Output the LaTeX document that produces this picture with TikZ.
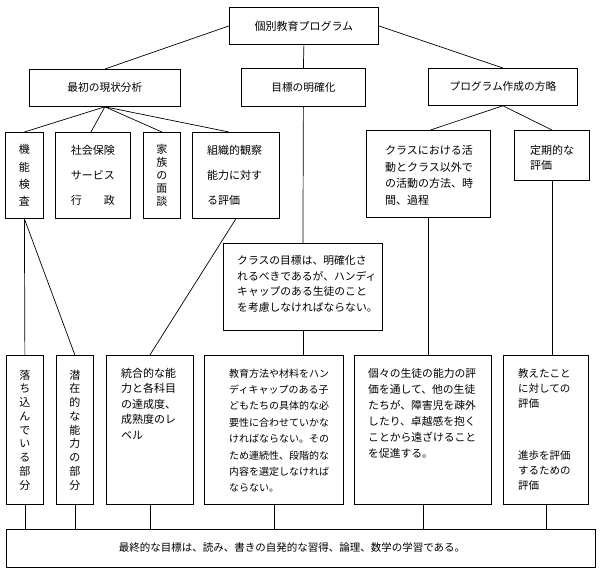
\documentclass[tikz,border=0pt]{standalone}
\usepackage{fontspec}
\newfontfamily\jp{Noto Sans CJK JP}
\newcommand\jpf[2]{\jp\fontsize{#1}{#2}\selectfont}
\usetikzlibrary{calc}
\begin{document}
\begin{tikzpicture}[x=1pt,y=-1pt,
  box/.style={draw, line width=0.8pt, inner sep=0pt, anchor=north west, align=center, font=\jpf{11}{16}},
  txt/.style={inner sep=0pt, anchor=north west, align=left},
  link/.style={line width=0.7pt}]
\useasboundingbox (0,0) rectangle (600,570);
% level 1 and 2
\node[box, minimum width=149pt, minimum height=37pt] (top) at (229,7) {個別教育プログラム};
\node[box, minimum width=151pt, minimum height=37pt, font=\jpf{10.7}{14}] (anal) at (29,69) {最初の現状分析};
\node[box, minimum width=124pt, minimum height=38pt, font=\jpf{10.7}{14}] (goal) at (241,68) {目標の明確化};
\node[box, minimum width=149pt, minimum height=37pt, font=\jpf{10.7}{14}] (strat) at (428,68) {プログラム作成の方略};
% level 3
\node[box, minimum width=38pt, minimum height=86pt, font=\jpf{11}{17.3}] (kinou) at (5,132) {機\\能\\検\\査};
\node[box, minimum width=75pt, minimum height=86pt, font=\jpf{11}{25}] (shakai) at (55,132) {社会保険\\サービス\\行　　政};
\node[box, minimum width=37pt, minimum height=86pt, font=\jpf{11}{13}] (kazoku) at (143,132) {家\\族\\の\\面\\談};
\node[box, minimum width=87pt, minimum height=86pt] (soshiki) at (192,132) {};
\node[txt, font=\jpf{11}{25}] (soshikit) at (207,145) {組織的観察\\能力に対す\\る評価};
\node[box, minimum width=124pt, minimum height=87pt] (classact) at (366,130) {};
\node[txt, font=\jpf{11}{16.7}] (classactt) at (385,145) {クラスにおける活\\動とクラス以外で\\の活動の方法、時\\間、過程};
\node[box, minimum width=75pt, minimum height=50pt] (teiki) at (514,130) {};
\node[txt, font=\jpf{11}{15.5}] (teikit) at (530,145) {定期的な\\評価};
% middle goal box
\node[box, minimum width=159pt, minimum height=87pt] (midgoal) at (223,243) {};
\node[txt, font=\jpf{10.8}{15.8}] (midgoalt) at (237,255) {クラスの目標は、明確化さ\\れるべきであるが、ハンディ\\キャップのある生徒のこと\\を考慮しなければならない。};
% level 4
\node[box, minimum width=37pt, minimum height=149pt, font=\jpf{11}{13.75}] (ochikon) at (6,355) {落\\ち\\込\\ん\\で\\い\\る\\部\\分};
\node[box, minimum width=37pt, minimum height=149pt, font=\jpf{11}{13.75}] (senzai) at (56,355) {潜\\在\\的\\な\\能\\力\\の\\部\\分};
\node[box, minimum width=87pt, minimum height=149pt] (tougou) at (106,355) {};
\node[txt, font=\jpf{11}{15.5}] (tougout) at (121,368) {統合的な能\\力と各科目\\の達成度、\\成熟度のレ\\ベル};
\node[box, minimum width=139pt, minimum height=149pt] (edu) at (204,355) {};
\node[txt, font=\jpf{10}{16.4}] (edut) at (229,368.5) {教育方法や材料をハン\\ディキャップのある子\\どもたちの具体的な必\\要性に合わせていかな\\ければならない。その\\ため連続性、段階的な\\内容を選定しなければ\\ならない。};
\node[box, minimum width=137pt, minimum height=149pt] (kojin) at (354,355) {};
\node[txt, font=\jpf{10.8}{16}] (kojint) at (368,368) {個々の生徒の能力の評\\価を通して、他の生徒\\たちが、障害児を疎外\\したり、卓越感を抱く\\ことから遠ざけること\\を促進する。};
\node[box, minimum width=85pt, minimum height=149pt] (oshieta) at (503,355) {};
\node[txt, font=\jpf{10.5}{15}] (oshietat) at (518,368) {教えたこと\\に対しての\\評価\\[37pt]進歩を評価\\するための\\評価};
% final
\node[box, minimum width=589pt, minimum height=38pt] (final) at (6,529) {};
\node[font=\jpf{10.5}{12}, inner sep=0pt] (finalt) at (292,548) {最終的な目標は、読み、書きの自発的な習得、論理、数学の学習である。};
% connectors
\draw[link] (top.west) -- (anal.north);
\draw[link] (top.east) -- (strat.north);
\draw[link] (top.south) -- (goal.north);
\draw[link] (anal.south) -- (kinou.north);
\draw[link] (anal.south) -- ([xshift=-2pt]shakai.north);
\draw[link] (anal.south) -- (kazoku.north);
\draw[link] (anal.south) -- ([xshift=-7pt]soshiki.north);
\draw[link] (strat.south) -- ([xshift=2pt]classact.north);
\draw[link] (strat.south) -- (teiki.north);
\draw[link] (goal.south) -- (midgoal.north);
\draw[link] (midgoal.south) -- (midgoal.south |- edu.north);
\draw[link] (kinou.south) -- (ochikon.north);
\draw[link] (kinou.south) -- (senzai.north);
\draw[link] (soshiki.south) -- (tougou.north);
\draw[link] (classact.south) -- (classact.south |- kojin.north);
\draw[link] (teiki.south) -- (teiki.south |- oshieta.north);
\foreach \n in {ochikon,senzai,tougou,edu,kojin,oshieta}
  \draw[link] (\n.south) -- (\n.south |- final.north);
\end{tikzpicture}
\end{document}
